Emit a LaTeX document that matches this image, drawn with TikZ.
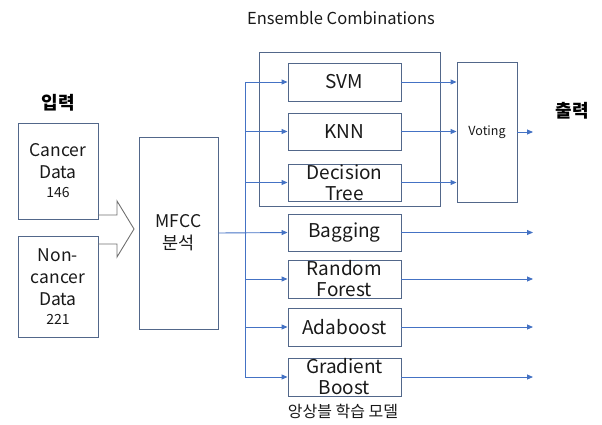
\documentclass[tikz,border=0pt]{standalone}
\usepackage{fontspec}
\setmainfont{Noto Sans CJK KR}
\usetikzlibrary{arrows.meta}
\definecolor{boxline}{HTML}{52678A}
\definecolor{flow}{HTML}{4472C4}
\definecolor{fatarrow}{HTML}{707070}
\tikzset{
  mbox/.style={draw=boxline, line width=0.9pt, inner sep=0pt, align=center,
    font=\fontsize{19}{21}\selectfont, text=black!90},
  flowline/.style={draw=flow, line width=0.9pt, -{Triangle[length=6pt,width=5pt]}},
  plain/.style={draw=flow, line width=0.9pt},
  caption/.style={font=\fontsize{16.5}{19}\selectfont, text=black!90},
  heading/.style={font=\fontsize{18}{20}\selectfont\bfseries}
}
\begin{document}
\begin{tikzpicture}[x=1pt, y=-1pt]
\useasboundingbox (0,0) rectangle (602,425);

% titles
\node[caption] (title) at (341,18) {Ensemble Combinations};
\node[heading] (inlabel) at (58,103) {입력};
\node[heading] (outlabel) at (572,111) {출력};
\node[caption, font=\fontsize{16}{18}\selectfont] (foot) at (343,411) {앙상블 학습 모델};

% ensemble group frame
\draw[boxline, line width=0.9pt] (259,52) rectangle (440,206);

% input data boxes
\node[mbox, font=\fontsize{17.5}{22}\selectfont, minimum width=80pt, minimum height=96pt] (cancer) at (58,171)
  {Cancer\\Data\\[-3pt]{\fontsize{14}{16}\selectfont 146}};
\node[mbox, font=\fontsize{17.5}{22}\selectfont, minimum width=80pt, minimum height=101pt] (noncancer) at (58,286.5)
  {Non-\\cancer\\Data\\[-3pt]{\fontsize{14}{16}\selectfont 221}};

% feature extraction
\node[mbox, font=\fontsize{17.5}{22}\selectfont, minimum width=79pt, minimum height=192pt] (mfcc) at (178.5,233)
  {MFCC\\분석};

% fat arrow from the data boxes into MFCC
\coordinate (fa1) at (98,215);
\coordinate (fa2) at (117,215);
\coordinate (fa3) at (117,201);
\coordinate (fatip) at (134,229);
\coordinate (fa4) at (117,257);
\coordinate (fa5) at (117,244);
\coordinate (fa6) at (98,244);
\draw[fatarrow, line width=0.9pt, line join=miter]
  (fa1) -- (fa2) -- (fa3) -- (fatip) -- (fa4) -- (fa5) -- (fa6);

% classifiers
\node[mbox, minimum width=113pt, minimum height=38pt] (svm) at (344.5,82) {SVM};
\node[mbox, minimum width=113pt, minimum height=37pt] (knn) at (344.5,131.5) {KNN};
\node[mbox, minimum width=113pt, minimum height=37pt] (dt) at (344.5,182.5) {Decision\\Tree};
\node[mbox, minimum width=113pt, minimum height=37pt] (bag) at (344.5,232.5) {Bagging};
\node[mbox, minimum width=113pt, minimum height=38pt] (rf) at (344.5,279) {Random\\Forest};
\node[mbox, minimum width=113pt, minimum height=38pt] (ada) at (344.5,327) {Adaboost};
\node[mbox, minimum width=113pt, minimum height=38pt] (gb) at (344.5,377) {Gradient\\Boost};

% voting
\node[mbox, minimum width=60pt, minimum height=140pt, font=\fontsize{12.5}{14}\selectfont] (vote) at (487,132) {Voting};

% distribution bus
\coordinate (bustop) at (245,82);
\coordinate (busbot) at (245,377);
\coordinate (busmid) at (245,233);
\draw[plain] (bustop) -- (busbot);
\draw[flowline] (mfcc.east |- busmid) -- (bag.west);
\foreach \n in {svm,knn,dt,rf,ada,gb}
  \draw[flowline] (bustop |- \n.west) -- (\n.west);

% into voting
\draw[flowline] (svm.east) -- (vote.west |- svm.east);
\draw[flowline] (knn.east) -- (vote.west |- knn.east);
\draw[flowline] (dt.east) -- (vote.west |- dt.east);

% outputs
\coordinate (outx) at (533,0);
\draw[flowline] (vote.east) -- (outx |- vote.east);
\foreach \n in {bag,rf,ada,gb}
  \draw[flowline] (\n.east) -- (outx |- \n.east);
\end{tikzpicture}
\end{document}
